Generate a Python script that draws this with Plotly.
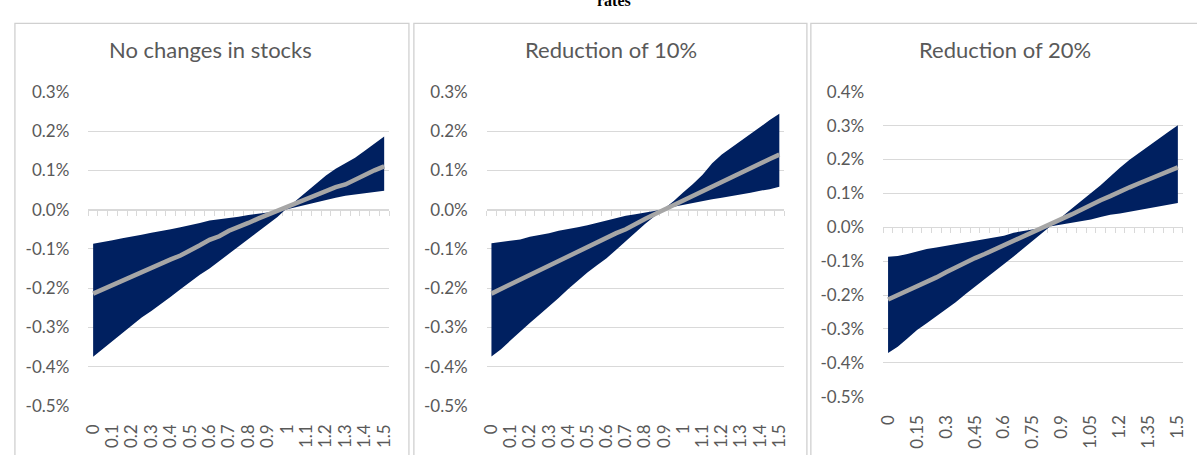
import plotly.graph_objects as go

# ---- data -------------------------------------------------------------
x_fine = [round(i * 0.05, 2) for i in range(31)]  # 0 .. 1.5

panel_titles = ["No changes in stocks", "Reduction of 10%", "Reduction of 20%"]

# steep edge of the band (bottom before the crossing, top after it), in %
steep_1 = [-0.375, -0.355, -0.335, -0.315, -0.295, -0.275, -0.258, -0.241, -0.222, -0.203,
           -0.184, -0.166, -0.150, -0.131, -0.112, -0.093, -0.075, -0.057, -0.038, -0.019,
           0.004, 0.025, 0.047, 0.068, 0.087, 0.104, 0.118, 0.132, 0.150, 0.168, 0.186]
shallow_1 = [-0.087, -0.083, -0.078, -0.073, -0.069, -0.064, -0.059, -0.055, -0.050, -0.045,
             -0.040, -0.034, -0.028, -0.025, -0.021, -0.018, -0.014, -0.011, -0.007, -0.004,
             0.001, 0.007, 0.013, 0.018, 0.024, 0.030, 0.035, 0.038, 0.041, 0.044, 0.048]
mean_1 = [-0.214, -0.203, -0.193, -0.181, -0.170, -0.158, -0.146, -0.138, -0.127, -0.117,
          -0.105, -0.091, -0.077, -0.068, -0.054, -0.045, -0.034, -0.023, -0.013, -0.004,
          0.004, 0.014, 0.026, 0.037, 0.047, 0.057, 0.064, 0.077, 0.089, 0.100, 0.110]

steep_2 = [-0.374, -0.356, -0.333, -0.310, -0.289, -0.268, -0.247, -0.225, -0.202, -0.181,
           -0.160, -0.142, -0.124, -0.102, -0.080, -0.058, -0.037, -0.017, 0.002, 0.022,
           0.044, 0.065, 0.089, 0.118, 0.140, 0.158, 0.176, 0.194, 0.212, 0.228, 0.244]
shallow_2 = [-0.086, -0.083, -0.079, -0.076, -0.069, -0.065, -0.060, -0.054, -0.050, -0.045,
             -0.040, -0.034, -0.028, -0.022, -0.016, -0.012, -0.008, -0.004, 0.001, 0.007,
             0.012, 0.017, 0.021, 0.026, 0.030, 0.034, 0.039, 0.043, 0.048, 0.052, 0.058]
mean_2 = [-0.214, -0.202, -0.190, -0.178, -0.167, -0.155, -0.145, -0.130, -0.118, -0.107,
          -0.096, -0.084, -0.072, -0.060, -0.050, -0.036, -0.024, -0.012, 0.000, 0.012,
          0.024, 0.035, 0.047, 0.058, 0.070, 0.082, 0.094, 0.106, 0.118, 0.129, 0.140]

steep_3 = [-0.371, -0.353, -0.328, -0.303, -0.283, -0.263, -0.243, -0.221, -0.198, -0.176,
           -0.154, -0.132, -0.110, -0.086, -0.063, -0.040, -0.016, 0.008, 0.031, 0.055,
           0.078, 0.100, 0.124, 0.150, 0.176, 0.199, 0.220, 0.240, 0.260, 0.281, 0.301]
shallow_3 = [-0.087, -0.085, -0.079, -0.072, -0.064, -0.060, -0.055, -0.050, -0.044, -0.039,
             -0.034, -0.030, -0.025, -0.016, -0.011, -0.007, -0.003, 0.002, 0.008, 0.013,
             0.018, 0.023, 0.030, 0.037, 0.041, 0.046, 0.051, 0.057, 0.063, 0.067, 0.072]
mean_3 = [-0.213, -0.200, -0.190, -0.176, -0.163, -0.148, -0.133, -0.118, -0.103, -0.091,
          -0.079, -0.066, -0.053, -0.040, -0.027, -0.016, -0.004, 0.010, 0.024, 0.038,
          0.052, 0.067, 0.080, 0.092, 0.106, 0.118, 0.130, 0.142, 0.154, 0.166, 0.177]

x_labels_a = [0, 0.1, 0.2, 0.3, 0.4, 0.5, 0.6, 0.7, 0.8, 0.9, 1, 1.1, 1.2, 1.3, 1.4, 1.5]
x_labels_b = [0, 0.15, 0.3, 0.45, 0.6, 0.75, 0.9, 1.05, 1.2, 1.35, 1.5]

y_ticks_a = [-0.005, -0.004, -0.003, -0.002, -0.001, 0.0, 0.001, 0.002, 0.003]
y_ticks_b = [-0.005, -0.004, -0.003, -0.002, -0.001, 0.0, 0.001, 0.002, 0.003, 0.004]

# ---- styling ----------------------------------------------------------
W, H = 1197, 455
NAVY = "#002060"
MEAN_GREY = "#A6A6A6"
GRID = "#D9D9D9"
TEXT = "#595959"
FONT = "Lato"
TICK_SIZE = 17


def px_x(p):
    return p / W


def px_y(p):
    return 1 - p / H


def pct_label(v):
    return f"{v * 100:.1f}%"


panels = [
    dict(title=panel_titles[0], steep=steep_1, shallow=shallow_1, mean=mean_1,
         xlab=x_labels_a, yt=y_ticks_a, xdom=(82.1, 385.9), ytop=84.7, ybot=414.0,
         box=(8, 406), tx=206),
    dict(title=panel_titles[1], steep=steep_2, shallow=shallow_2, mean=mean_2,
         xlab=x_labels_a, yt=y_ticks_a, xdom=(484.5, 785.0), ytop=84.7, ybot=414.0,
         box=(411, 808), tx=610),
    dict(title=panel_titles[2], steep=steep_3, shallow=shallow_3, mean=mean_3,
         xlab=x_labels_b, yt=y_ticks_b, xdom=(885.1, 1187.6), ytop=84.7, ybot=404.3,
         box=(812, 1205), tx=1008),
]

fig = go.Figure()
layout = dict(
    width=W, height=H,
    margin=dict(l=0, r=0, t=0, b=0),
    paper_bgcolor="white", plot_bgcolor="white",
    showlegend=False,
    font=dict(family=FONT, color=TEXT, size=TICK_SIZE),
)
shapes = []
annotations = []

XR = [-0.025, 1.525]

for i, p in enumerate(panels):
    n = i + 1
    xa = "x" if n == 1 else f"x{n}"
    ya = "y" if n == 1 else f"y{n}"
    zx = f"x{n + 3}"
    xkey = "xaxis" if n == 1 else f"xaxis{n}"
    ykey = "yaxis" if n == 1 else f"yaxis{n}"
    zkey = f"xaxis{n + 3}"

    steep = [v / 100 for v in p["steep"]]
    shallow = [v / 100 for v in p["shallow"]]
    mean = [v / 100 for v in p["mean"]]

    fig.add_trace(go.Scatter(x=x_fine, y=steep, mode="lines", line=dict(width=0, color=NAVY),
                             xaxis=xa, yaxis=ya, hoverinfo="skip"))
    fig.add_trace(go.Scatter(x=x_fine, y=shallow, mode="lines", line=dict(width=0, color=NAVY),
                             fill="tonexty", fillcolor=NAVY, xaxis=xa, yaxis=ya, hoverinfo="skip"))
    fig.add_trace(go.Scatter(x=x_fine, y=mean, mode="lines",
                             line=dict(width=4.5, color=MEAN_GREY),
                             xaxis=xa, yaxis=ya, hoverinfo="skip"))
    # carrier for the zero-line axis
    fig.add_trace(go.Scatter(x=[], y=[], xaxis=zx, yaxis=ya, hoverinfo="skip"))

    yr = [p["yt"][0], p["yt"][-1]]
    dom_y = [px_y(p["ybot"]), px_y(p["ytop"])]
    dom_x = [px_x(p["xdom"][0]), px_x(p["xdom"][1])]

    layout[xkey] = dict(
        domain=dom_x, anchor=ya, range=XR,
        tickmode="array", tickvals=p["xlab"], ticktext=[f"{v:g}" for v in p["xlab"]],
        tickangle=-90, ticks="", showline=False, showgrid=False, zeroline=False,
        tickfont=dict(family=FONT, size=TICK_SIZE, color=TEXT), ticklabelstandoff=14,
    )
    layout[ykey] = dict(
        domain=dom_y, anchor=xa, range=yr,
        tickmode="array", tickvals=p["yt"], ticktext=[pct_label(v) for v in p["yt"]],
        showgrid=True, gridcolor=GRID, gridwidth=1, zeroline=False, showline=False,
        ticks="", tickfont=dict(family=FONT, size=TICK_SIZE, color=TEXT), ticklabelstandoff=18,
    )
    zero_pos = dom_y[0] + (0 - yr[0]) / (yr[1] - yr[0]) * (dom_y[1] - dom_y[0])
    layout[zkey] = dict(
        overlaying=xa, anchor="free", position=zero_pos, range=XR,
        tickmode="linear", tick0=-0.025, dtick=0.05,
        ticks="outside", ticklen=5, tickcolor=GRID, tickwidth=1,
        showline=True, linecolor=GRID, linewidth=1,
        showticklabels=False, showgrid=False, zeroline=False, layer="below traces",
    )

    x0, x1 = p["box"]
    shapes.append(dict(type="rect", xref="paper", yref="paper",
                       x0=px_x(x0), x1=px_x(x1), y0=px_y(470), y1=px_y(13),
                       line=dict(color="#D0D0D0", width=1.3), fillcolor="rgba(0,0,0,0)",
                       layer="below"))
    annotations.append(dict(text=p["title"], xref="paper", yref="paper",
                            x=px_x(p["tx"]), y=px_y(40), xanchor="center", yanchor="middle",
                            showarrow=False, font=dict(family=FONT, size=22, color=TEXT)))

annotations.append(dict(text="<b>rates</b>", xref="paper", yref="paper",
                        x=px_x(613), y=px_y(0), xanchor="center", yanchor="bottom",
                        showarrow=False, font=dict(family="Liberation Serif", size=16,
                                                   color="black")))

layout["shapes"] = shapes
layout["annotations"] = annotations
fig.update_layout(**layout)

fig.write_html("out.html")
